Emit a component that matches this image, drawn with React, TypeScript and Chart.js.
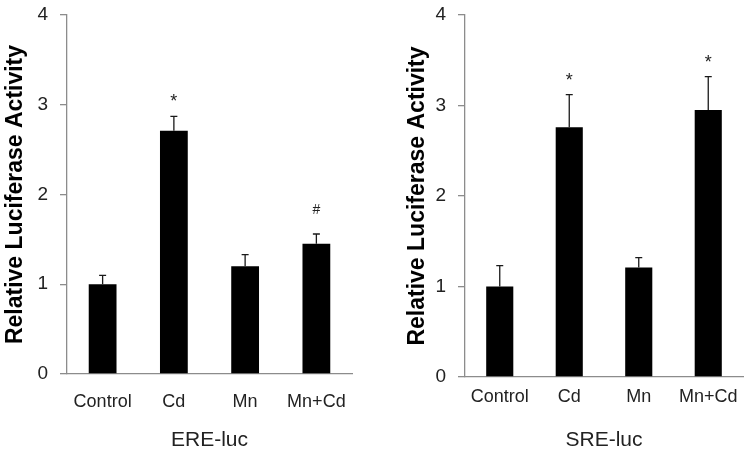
import React, { useEffect, useRef } from "react";
import { Chart, registerables } from "chart.js";

Chart.register(...registerables);

const categories = ["Control", "Cd", "Mn", "Mn+Cd"];
const ereValues = [1.0, 2.71, 1.2, 1.45];
const ereErrors = [0.1, 0.16, 0.13, 0.11];
const ereMarks = ["", "*", "", "#"];
const sreValues = [1.0, 2.76, 1.21, 2.95];
const sreErrors = [0.23, 0.36, 0.11, 0.37];
const sreMarks = ["", "*", "", "*"];
const yMin = 0;
const yMax = 4;
const yStep = 1;
const yTitle = "Relative Luciferase Activity";
const ereTitle = "ERE-luc";
const sreTitle = "SRE-luc";

const FONT = "'Liberation Sans', Arial, sans-serif";

const errorBarPlugin = {
  id: "errorBars",
  afterDatasetsDraw(chart: any, _args: any, opts: any) {
    const { ctx } = chart;
    const xs = chart.scales.x;
    const ys = chart.scales.y;
    const data: number[] = chart.data.datasets[0].data;
    const errs: number[] = opts.errors || [];
    const marks: string[] = opts.marks || [];
    data.forEach((v, i) => {
      const px = xs.getPixelForValue(i);
      const yb = ys.getPixelForValue(v);
      const yt = ys.getPixelForValue(v + (errs[i] || 0));
      ctx.save();
      ctx.strokeStyle = "#1a1a1a";
      ctx.lineWidth = 1.3;
      ctx.beginPath();
      ctx.moveTo(px, yb);
      ctx.lineTo(px, yt);
      ctx.moveTo(px - 3.5, yt);
      ctx.lineTo(px + 3.5, yt);
      ctx.stroke();
      const m = marks[i];
      if (m) {
        ctx.fillStyle = "#222";
        ctx.textAlign = "center";
        ctx.textBaseline = "alphabetic";
        if (m === "#") {
          ctx.font = `14px ${FONT}`;
          ctx.fillText(m, px, yt - 20);
        } else {
          ctx.font = `18px ${FONT}`;
          ctx.fillText(m, px, yt - 9);
        }
      }
      ctx.restore();
    });
  },
};

type Cfg = {
  left: number;
  width: number;
  padLeft: number;
  padRight: number;
  padTop: number;
  yWidth: number;
  xHeight: number;
  xPad: number;
  values: number[];
  errors: number[];
  marks: string[];
  title: string;
};

function Panel({ cfg }: { cfg: Cfg }) {
  const ref = useRef<HTMLCanvasElement>(null);
  useEffect(() => {
    if (!ref.current) return;
    const axisColor = "#8c8c8c";
    const chart = new Chart(ref.current, {
      type: "bar",
      data: {
        labels: categories,
        datasets: [
          {
            data: cfg.values,
            backgroundColor: "#000",
            borderWidth: 0,
            barPercentage: 0.39,
            categoryPercentage: 1,
          },
        ],
      },
      options: {
        responsive: false,
        animation: false,
        devicePixelRatio: 1,
        layout: {
          padding: { left: cfg.padLeft, right: cfg.padRight, top: cfg.padTop, bottom: 0 },
        },
        plugins: {
          legend: { display: false },
          tooltip: { enabled: false },
          errorBars: { errors: cfg.errors, marks: cfg.marks },
        } as any,
        scales: {
          x: {
            grid: { display: false, drawTicks: false },
            border: { display: true, color: axisColor, width: 1.3 },
            ticks: {
              color: "#222",
              font: { family: FONT, size: 18 },
              padding: cfg.xPad,
              maxRotation: 0,
              autoSkip: false,
            },
            title: {
              display: true,
              text: cfg.title,
              color: "#222",
              font: { family: FONT, size: 21 },
              padding: { top: 0, bottom: 2 },
            },
            afterFit: (s: any) => {
              s.height = cfg.xHeight;
              s.paddingLeft = 0;
              s.paddingRight = 0;
            },
          },
          y: {
            min: yMin,
            max: yMax,
            grid: {
              drawOnChartArea: false,
              drawTicks: true,
              tickLength: 7,
              color: axisColor,
              lineWidth: 1.3,
            },
            border: { display: true, color: axisColor, width: 1.3 },
            ticks: {
              stepSize: yStep,
              color: "#222",
              font: { family: FONT, size: 19 },
              padding: 12,
            },
            title: {
              display: true,
              text: yTitle,
              color: "#000",
              font: { family: FONT, size: 23, weight: "bold" },
              padding: { top: 1, bottom: 0 },
            },
            afterFit: (s: any) => {
              s.width = cfg.yWidth;
              s.paddingTop = 0;
              s.paddingBottom = 0;
            },
          },
        },
      },
      plugins: [errorBarPlugin],
    });
    return () => chart.destroy();
  }, []);
  return (
    <canvas
      ref={ref}
      width={cfg.width}
      height={455}
      style={{ position: "absolute", left: cfg.left, top: 0, width: cfg.width, height: 455 }}
    />
  );
}

const leftCfg: Cfg = {
  left: 0,
  width: 375,
  padLeft: 1,
  padRight: 23,
  padTop: 15,
  yWidth: 66,
  xHeight: 81,
  xPad: 17,
  values: ereValues,
  errors: ereErrors,
  marks: ereMarks,
  title: ereTitle,
};

const rightCfg: Cfg = {
  left: 375,
  width: 376,
  padLeft: 28,
  padRight: 8,
  padTop: 15,
  yWidth: 62,
  xHeight: 78,
  xPad: 9,
  values: sreValues,
  errors: sreErrors,
  marks: sreMarks,
  title: sreTitle,
};

export default function App() {
  return (
    <div
      style={{
        position: "absolute",
        left: 0,
        top: 0,
        width: 751,
        height: 455,
        background: "#fff",
        overflow: "hidden",
      }}
    >
      <Panel cfg={leftCfg} />
      <Panel cfg={rightCfg} />
    </div>
  );
}
